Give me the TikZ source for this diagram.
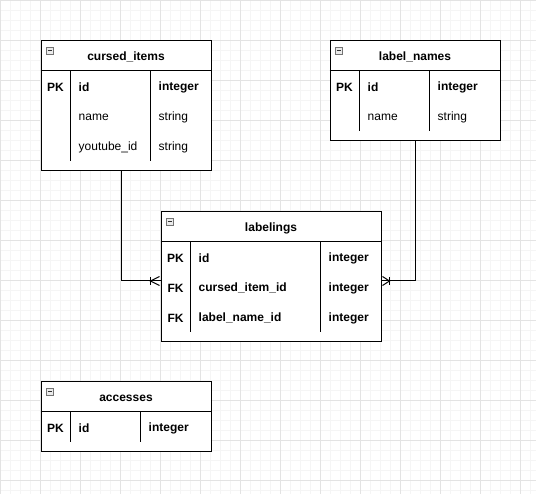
\documentclass[tikz,border=0pt]{standalone}
\usepackage{fontspec}
\setmainfont{Liberation Sans}
\usetikzlibrary{calc,positioning}
\newcommand{\fs}{\fontsize{12}{14}\selectfont}

\tikzset{
  collapse/.pic={
    \draw[fill=black!8, draw=black!55, line width=0.6pt] (0,0) rectangle (7.5,7.5);
    \draw[line width=1pt, black!80] (1.5,3.75) -- (6,3.75);
  }
}

\begin{document}
\begin{tikzpicture}[x=1pt,y=-1pt,
    minorline/.style={black!4, line width=0.8pt},
    majorline/.style={black!11, line width=0.8pt},
    tbl/.style={draw, line width=1pt, inner sep=0pt, anchor=north west, fill=white},
    sepline/.style={line width=1pt},
    title/.style={font=\fs\bfseries, inner sep=0pt},
    keytxt/.style={font=\fs\bfseries, inner sep=0pt},
    boldtxt/.style={font=\fs\bfseries, anchor=west, inner sep=0pt},
    plaintxt/.style={font=\fs, anchor=west, inner sep=0pt},
    conn/.style={line width=1pt}]

    \useasboundingbox (0,0) rectangle (536,494);

    % background grid
    \foreach \gx in {0,10,...,530} \draw[minorline] (\gx+0.5,0) -- (\gx+0.5,494);
    \foreach \gy in {0,10,...,490} \draw[minorline] (0,\gy+0.5) -- (536,\gy+0.5);
    \foreach \gx in {0,40,...,520} \draw[majorline] (\gx+0.5,0) -- (\gx+0.5,494);
    \foreach \gy in {0,40,...,480} \draw[majorline] (0,\gy+0.5) -- (536,\gy+0.5);

    % cursed_items table
    \node[tbl, minimum width=170, minimum height=130] (cursed) at (40.5,40.5) {};
    \draw[sepline] ([yshift=-30]cursed.north west) -- ([yshift=-30]cursed.north east);
    \draw[sepline] ([xshift=30,yshift=-30]cursed.north west) -- ([xshift=30,yshift=10]cursed.south west);
    \draw[sepline] ([xshift=110,yshift=-30]cursed.north west) -- ([xshift=110,yshift=10]cursed.south west);
    \pic at ([xshift=5.5,yshift=-6.5]cursed.north west) {collapse};
    \node[title] (cursed-title) at ([yshift=-16.5]cursed.north) {cursed\_items};
    \node[keytxt] (cursed-pk) at ([xshift=15,yshift=-46.5]cursed.north west) {PK};
    \node[boldtxt] (cursed-id) at ([xshift=38,yshift=-46.5]cursed.north west) {id};
    \node[boldtxt] (cursed-idt) at ([xshift=118,yshift=-46.5]cursed.north west) {integer};
    \node[plaintxt] (cursed-name) at ([xshift=38,yshift=-76.5]cursed.north west) {name};
    \node[plaintxt] (cursed-namet) at ([xshift=118,yshift=-76.5]cursed.north west) {string};
    \node[plaintxt] (cursed-yt) at ([xshift=38,yshift=-106.5]cursed.north west) {youtube\_id};
    \node[plaintxt] (cursed-ytt) at ([xshift=118,yshift=-106.5]cursed.north west) {string};

    % label_names table
    \node[tbl, minimum width=170, minimum height=100] (names) at (329.5,40.5) {};
    \draw[sepline] ([yshift=-30]names.north west) -- ([yshift=-30]names.north east);
    \draw[sepline] ([xshift=30,yshift=-30]names.north west) -- ([xshift=30,yshift=10]names.south west);
    \draw[sepline] ([xshift=100,yshift=-30]names.north west) -- ([xshift=100,yshift=10]names.south west);
    \pic at ([xshift=5.5,yshift=-6.5]names.north west) {collapse};
    \node[title] (names-title) at ([yshift=-16.5]names.north) {label\_names};
    \node[keytxt] (names-pk) at ([xshift=15,yshift=-46.5]names.north west) {PK};
    \node[boldtxt] (names-id) at ([xshift=38,yshift=-46.5]names.north west) {id};
    \node[boldtxt] (names-idt) at ([xshift=108,yshift=-46.5]names.north west) {integer};
    \node[plaintxt] (names-name) at ([xshift=38,yshift=-76.5]names.north west) {name};
    \node[plaintxt] (names-namet) at ([xshift=108,yshift=-76.5]names.north west) {string};

    % labelings table
    \node[tbl, minimum width=220, minimum height=130] (lab) at (160.5,211.5) {};
    \draw[sepline] ([yshift=-30]lab.north west) -- ([yshift=-30]lab.north east);
    \draw[sepline] ([xshift=30,yshift=-30]lab.north west) -- ([xshift=30,yshift=10]lab.south west);
    \draw[sepline] ([xshift=160,yshift=-30]lab.north west) -- ([xshift=160,yshift=10]lab.south west);
    \pic at ([xshift=5.5,yshift=-6.5]lab.north west) {collapse};
    \node[title] (lab-title) at ([yshift=-16.5]lab.north) {labelings};
    \node[keytxt] (lab-pk) at ([xshift=15,yshift=-46.5]lab.north west) {PK};
    \node[boldtxt] (lab-id) at ([xshift=38,yshift=-46.5]lab.north west) {id};
    \node[boldtxt] (lab-idt) at ([xshift=168,yshift=-46.5]lab.north west) {integer};
    \node[keytxt] (lab-fk1) at ([xshift=15,yshift=-76.5]lab.north west) {FK};
    \node[boldtxt] (lab-ci) at ([xshift=38,yshift=-76.5]lab.north west) {cursed\_item\_id};
    \node[boldtxt] (lab-cit) at ([xshift=168,yshift=-76.5]lab.north west) {integer};
    \node[keytxt] (lab-fk2) at ([xshift=15,yshift=-106.5]lab.north west) {FK};
    \node[boldtxt] (lab-ln) at ([xshift=38,yshift=-106.5]lab.north west) {label\_name\_id};
    \node[boldtxt] (lab-lnt) at ([xshift=168,yshift=-106.5]lab.north west) {integer};

    % accesses table
    \node[tbl, minimum width=170, minimum height=70] (acc) at (40.5,381.5) {};
    \draw[sepline] ([yshift=-30]acc.north west) -- ([yshift=-30]acc.north east);
    \draw[sepline] ([xshift=30,yshift=-30]acc.north west) -- ([xshift=30,yshift=10]acc.south west);
    \draw[sepline] ([xshift=100,yshift=-30]acc.north west) -- ([xshift=100,yshift=10]acc.south west);
    \pic at ([xshift=5.5,yshift=-6.5]acc.north west) {collapse};
    \node[title] (acc-title) at ([yshift=-16.5]acc.north) {accesses};
    \node[keytxt] (acc-pk) at ([xshift=15,yshift=-46.5]acc.north west) {PK};
    \node[boldtxt] (acc-id) at ([xshift=38,yshift=-46.5]acc.north west) {id};
    \node[boldtxt] (acc-idt) at ([xshift=108,yshift=-46.5]acc.north west) {integer};

    % relations
    \coordinate (cursed-out) at ([xshift=-5]cursed.south);
    \coordinate (lab-in1) at ([yshift=-4]lab.west);
    \coordinate (lab-in2) at ([yshift=-4]lab.east);
    \draw[conn] (cursed-out) |- (lab-in1);
    \draw[conn] (names.south) |- (lab-in2);

    % crow's feet (one to many)
    \draw[conn] ($(lab-in1)+(-10,-4)$) -- ($(lab-in1)+(-10,4)$);
    \draw[conn] ($(lab-in1)+(-1,-4.5)$) -- ($(lab-in1)+(-10,0)$) -- ($(lab-in1)+(-1,4.5)$);
    \draw[conn] ($(lab-in2)+(8,-4)$) -- ($(lab-in2)+(8,4)$);
    \draw[conn] ($(lab-in2)+(1,-4.5)$) -- ($(lab-in2)+(8,0)$) -- ($(lab-in2)+(1,4.5)$);
\end{tikzpicture}
\end{document}
